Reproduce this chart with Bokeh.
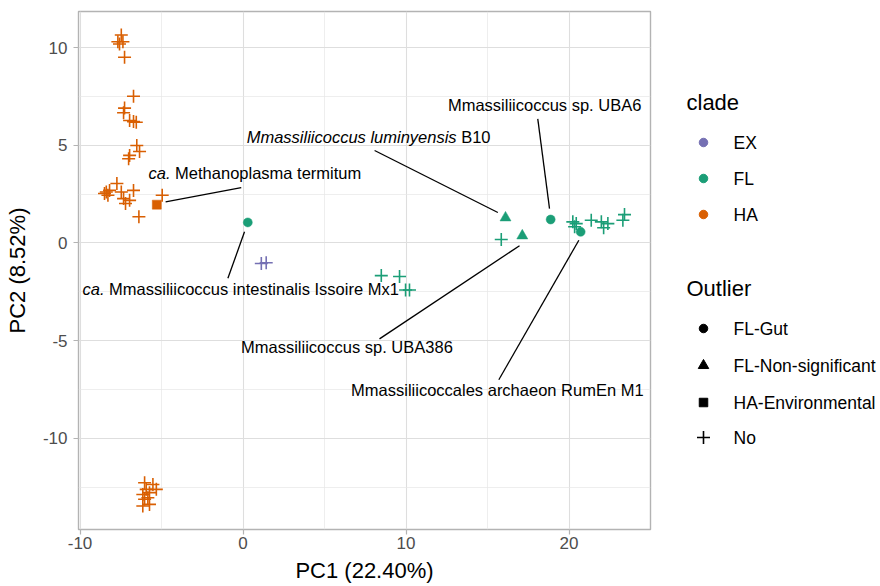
from bokeh.plotting import figure
from bokeh.models import Range1d, FixedTicker
from bokeh.layouts import row
from bokeh.embed import file_html
from bokeh.resources import INLINE
from bokeh.core.properties import value

FONT = "Liberation Sans"
NBSP = "\u00a0"

# ---------------- data ----------------
clades = ["EX", "FL", "HA"]
clade_colors = ["#7570B3", "#1B9E77", "#D95F02"]
outliers = ["FL-Gut", "FL-Non-significant", "HA-Environmental", "No"]
outlier_markers = ["circle", "triangle", "square", "cross"]

# HA clade, Outlier = No
ha_no_pc1 = [-7.47, -7.68, -7.37, -7.58, -7.27,
             -6.72, -7.27, -7.33, -6.96, -6.72, -6.55, -6.52, -6.35, -6.96, -7.02,
             -8.39, -8.29, -8.50, -8.19, -7.74, -7.47, -7.33, -7.21, -6.96, -6.72, -6.39, -4.96,
             -6.04, -5.53, -5.32, -5.94, -6.15, -5.74, -6.04, -5.84, -6.15, -5.74]
ha_no_pc2 = [10.64, 10.30, 10.30, 10.18, 9.50,
             7.51, 6.90, 6.66, 6.27, 6.21, 6.18, 4.99, 4.68, 4.48, 4.31,
             2.61, 2.44, 2.53, 2.69, 3.04, 2.61, 2.27, 2.02, 2.18, 2.69, 1.34, 2.44,
             -12.27, -12.36, -12.61, -12.61, -12.87, -12.78, -13.12, -13.04, -13.46, -13.38]
# HA clade, Outlier = HA-Environmental
ha_env_pc1 = [-5.29]
ha_env_pc2 = [1.96]
# EX clade, Outlier = No
ex_no_pc1 = [1.12, 1.42]
ex_no_pc2 = [-1.05, -1.01]
# FL clade, Outlier = No
fl_no_pc1 = [8.48, 9.60, 9.97, 10.21, 15.84, 20.23, 20.44, 20.34, 21.36, 21.98, 22.12, 22.38, 23.40, 23.30]
fl_no_pc2 = [-1.67, -1.72, -2.41, -2.41, 0.18, 1.08, 0.99, 0.83, 1.16, 1.08, 0.78, 0.99, 1.45, 1.16]
# FL clade, Outlier = FL-Gut
fl_gut_pc1 = [0.29, 18.87, 20.71]
fl_gut_pc2 = [1.05, 1.20, 0.57]
# FL clade, Outlier = FL-Non-significant
fl_ns_pc1 = [16.10, 17.13]
fl_ns_pc2 = [1.29, 0.37]

# labels (italic part, roman part)
label_italic = ["ca.", "Mmassiliicoccus luminyensis", "", "ca.", "", ""]
label_roman = ["Methanoplasma termitum", "B10", "Mmassiliicoccus sp. UBA6",
               "Mmassiliicoccus intestinalis Issoire Mx1", "Mmassiliicoccus sp. UBA386",
               "Mmassiliicoccales archaeon RumEn M1"]
# label anchor (split point for mixed labels, centre otherwise) in PC units
label_x = [-4.45, 13.10, 18.50, -8.50, 6.37, 15.60]
label_y = [3.60, 5.42, 7.07, -2.36, -5.33, -7.54]
seg_x0 = [-4.75, 15.63, 18.80, 0.09, 16.96, 20.60]
seg_y0 = [2.10, 1.56, 1.76, 0.57, -0.14, 0.14]
seg_x1 = [-0.11, 8.07, 18.08, -0.93, 8.37, 15.69]
seg_y1 = [2.83, 4.73, 6.35, -1.81, -4.91, -7.00]

x_ticks = [-10, 0, 10, 20]
x_minor = [-5, 5, 15]
y_ticks = [-10, -5, 0, 5, 10]
y_minor = [-12.5, -7.5, -2.5, 2.5, 7.5]

groups = [
    ("HA", "No", ha_no_pc1, ha_no_pc2),
    ("HA", "HA-Environmental", ha_env_pc1, ha_env_pc2),
    ("EX", "No", ex_no_pc1, ex_no_pc2),
    ("FL", "No", fl_no_pc1, fl_no_pc2),
    ("FL", "FL-Gut", fl_gut_pc1, fl_gut_pc2),
    ("FL", "FL-Non-significant", fl_ns_pc1, fl_ns_pc2),
]

# ---------------- ranges (ggplot-like 5% expansion) ----------------
all_x = sum([g[2] for g in groups], [])
all_y = sum([g[3] for g in groups], [])
xr = max(all_x) - min(all_x)
yr = max(all_y) - min(all_y)
x_range = Range1d(min(all_x) - 0.05 * xr, max(all_x) + 0.05 * xr)
y_range = Range1d(min(all_y) - 0.05 * yr, max(all_y) + 0.05 * yr)

FRAME_H = 518
TOP = 11

p = figure(frame_width=572, frame_height=FRAME_H, x_range=x_range, y_range=y_range,
           output_backend="svg", toolbar_location=None,
           min_border_left=78, min_border_right=8, min_border_top=TOP, min_border_bottom=0)
p.background_fill_color = "white"
p.border_fill_color = "white"
p.outline_line_color = "#B3B3B3"
p.outline_line_width = 1.4

p.xaxis.ticker = FixedTicker(ticks=x_ticks, minor_ticks=x_minor)
p.yaxis.ticker = FixedTicker(ticks=y_ticks, minor_ticks=y_minor)
p.xaxis.major_label_overrides = {t: str(t) for t in x_ticks}
p.yaxis.major_label_overrides = {t: str(t) for t in y_ticks}

for ax in (p.xaxis, p.yaxis):
    ax.axis_line_color = None
    ax.major_tick_line_color = "#B3B3B3"
    ax.major_tick_line_width = 1.2
    ax.major_tick_out = 5
    ax.major_tick_in = 0
    ax.minor_tick_line_color = None
    ax.major_label_text_font = FONT
    ax.major_label_text_font_size = "17px"
    ax.major_label_text_color = "#4D4D4D"
    ax.axis_label_text_font = FONT
    ax.axis_label_text_font_size = "22px"
    ax.axis_label_text_font_style = "normal"
    ax.axis_label_text_color = "#000000"

p.xaxis.axis_label = "PC1 (22.40%)"
p.yaxis.axis_label = "PC2 (8.52%)"
p.xaxis.major_label_standoff = 2
p.xaxis.axis_label_standoff = 6
p.yaxis.major_label_standoff = 6
p.yaxis.axis_label_standoff = 10

for g in (p.xgrid, p.ygrid):
    g.grid_line_color = "#DEDEDE"
    g.grid_line_width = 1.1
    g.minor_grid_line_color = "#E6E6E6"
    g.minor_grid_line_width = 0.7

marker_size = {"circle": 9, "triangle": 11, "square": 9, "cross": 13}

for clade, outl, xs, ys in groups:
    col = clade_colors[clades.index(clade)]
    mk = outlier_markers[outliers.index(outl)]
    if mk == "cross":
        p.scatter(xs, ys, marker=mk, size=marker_size[mk], line_color=col, line_width=1.6)
    else:
        p.scatter(xs, ys, marker=mk, size=marker_size[mk], fill_color=col, line_color=col, line_width=0.5)

p.segment(seg_x0, seg_y0, seg_x1, seg_y1, line_color="black", line_width=1.3)

for it, ro, lx, ly in zip(label_italic, label_roman, label_x, label_y):
    if it:
        p.text([lx], [ly], text=[it], text_font=value(FONT), text_font_size="16.5px",
               text_font_style="italic", text_align="right", text_baseline="middle", text_color="black")
        p.text([lx], [ly], text=[NBSP + ro], text_font=value(FONT), text_font_size="16.5px",
               text_align="left", text_baseline="middle", text_color="black")
    else:
        p.text([lx], [ly], text=[ro], text_font=value(FONT), text_font_size="16.5px",
               text_align="center", text_baseline="middle", text_color="black")

# ---------------- legend panel (pixel coordinates, origin at top-left of its frame) ----------------
LEG_W = 222
leg = figure(frame_width=LEG_W, frame_height=FRAME_H, x_range=Range1d(0, LEG_W), y_range=Range1d(FRAME_H, 0),
             x_axis_type=None, y_axis_type=None, output_backend="svg", toolbar_location=None,
             min_border_left=0, min_border_right=0, min_border_top=TOP, min_border_bottom=0)
leg.outline_line_color = None
leg.background_fill_color = "white"
leg.border_fill_color = "white"

title_x, key_x, lab_x = 28, 45, 75
clade_title_y = 91
clade_item_y = [131, 167, 203]
out_title_y = 277
out_item_y = [317, 354, 391, 426]

leg.text([title_x], [clade_title_y], text=["clade"], text_font=value(FONT), text_font_size="22px",
         text_baseline="middle", text_align="left", text_color="black")
leg.scatter([key_x] * len(clades), clade_item_y, marker="circle", size=8.5,
            fill_color=clade_colors, line_color=clade_colors)
leg.text([lab_x] * len(clades), clade_item_y, text=clades, text_font=value(FONT), text_font_size="17.5px",
         text_baseline="middle", text_align="left", text_color="black")

leg.text([title_x], [out_title_y], text=["Outlier"], text_font=value(FONT), text_font_size="22px",
         text_baseline="middle", text_align="left", text_color="black")
for mk, yy in zip(outlier_markers, out_item_y):
    if mk == "cross":
        leg.scatter([key_x], [yy], marker=mk, size=13, line_color="black", line_width=1.6)
    else:
        leg.scatter([key_x], [yy], marker=mk, size=marker_size[mk] - 0.5, fill_color="black", line_color="black")
leg.text([lab_x] * len(outliers), out_item_y, text=outliers, text_font=value(FONT), text_font_size="17.5px",
         text_baseline="middle", text_align="left", text_color="black")

layout = row(p, leg)
open("out.html", "w").write(file_html(layout, INLINE))
